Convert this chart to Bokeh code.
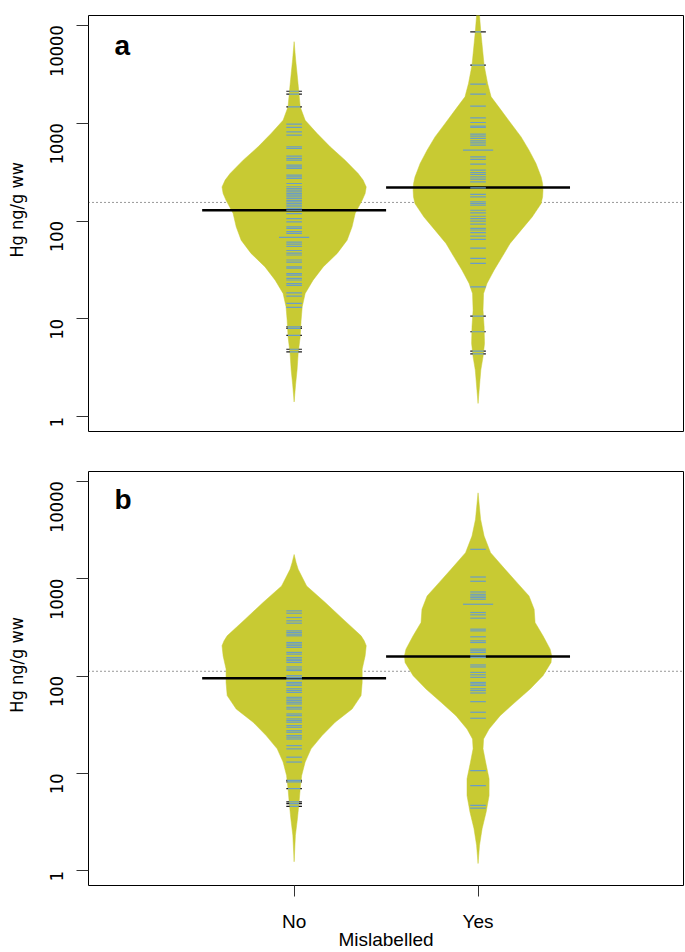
import math
import numpy as np
from bokeh.plotting import figure
from bokeh.models import Range1d, FixedTicker, Label, Span, NumeralTickFormatter
from bokeh.layouts import column, row
from bokeh.core.properties import value
from bokeh.embed import file_html
from bokeh.resources import INLINE

# ---------------- data ----------------
CATEGORIES = ["No", "Yes"]
TICK_VALUES = [1, 10, 100, 1000, 10000]
X_LABEL = "Mislabelled"
Y_LABEL = "Hg ng/g ww"
PANEL_TAGS = ["a", "b"]

# panel a: bean outlines (Hg level, half-width of the bean in category units)
A_NO_LEVELS = [6800, 4500, 3200, 2350, 1470, 1070, 785, 573, 419, 306, 262, 223, 191, 163, 120,
               87.3, 63.8, 46.7, 34.0, 24.9, 18.2, 13.3, 9.73, 6.56, 4.45, 3.0, 2.14, 1.42]
A_NO_WIDTHS = [0, 0.008, 0.016, 0.023, 0.033, 0.060, 0.125, 0.196, 0.277, 0.348, 0.375, 0.392,
               0.386, 0.370, 0.332, 0.315, 0.288, 0.234, 0.158, 0.103, 0.060, 0.044, 0.038,
               0.033, 0.022, 0.016, 0.008, 0]
A_YES_LEVELS = [22000, 12600, 8570, 3910, 2540, 1860, 1360, 993, 724, 530, 387, 282, 241, 207,
                177, 151, 110, 80.7, 59.0, 43.1, 31.5, 23.1, 18.2, 12.3, 8.30, 5.62, 4.10, 3.00,
                1.37]
A_YES_WIDTHS = [0, 0.008, 0.015, 0.033, 0.052, 0.071, 0.125, 0.179, 0.234, 0.277, 0.315, 0.343,
                0.351, 0.353, 0.351, 0.343, 0.294, 0.234, 0.174, 0.131, 0.087, 0.049, 0.030,
                0.027, 0.033, 0.035, 0.027, 0.015, 0]

# panel a: individual observations (stripes); *_DUP are repeated values (longer stripes)
A_NO_VALUES = [2120, 1980, 1470, 977, 904, 815, 754, 573, 551, 460, 436, 419, 372, 358, 345,
               294, 283, 272, 242, 224, 215, 207, 199, 191, 184, 177, 170, 163, 157, 151, 145,
               140, 134, 129, 119, 106, 98, 87, 84, 78, 75, 61, 58, 55, 50, 47, 45, 40, 38, 34,
               33, 29, 28, 26, 25, 23, 22, 18.5, 17.1, 14.4, 13.1, 8.3, 8.0, 6.8, 4.9, 4.6]
A_NO_DUP = [68]
A_YES_VALUES = [8570, 3910, 2500, 1980, 1490, 1133, 1016, 932, 904, 772, 736, 698, 660, 630,
                596, 453, 426, 381, 331, 313, 299, 283, 268, 251, 218, 187, 177, 157, 151, 145,
                129, 121, 112, 106, 100, 93, 84, 81, 76, 70, 65, 53, 41.5, 36.9, 21.3, 10.7,
                7.4, 4.7, 4.4]
A_YES_DUP = [530]
A_MEANS = [129, 220]
A_OVERALL = 155

# panel b
B_NO_LEVELS = [1770, 1460, 1247, 841, 569, 384, 259, 230, 205, 161, 118, 86.1, 63.0, 45.9,
               33.6, 24.5, 17.9, 13.1, 9.53, 6.97, 5.09, 3.44, 2.32, 1.24]
B_NO_WIDTHS = [0, 0.011, 0.022, 0.068, 0.169, 0.266, 0.364, 0.381, 0.392, 0.386, 0.370, 0.370,
               0.364, 0.315, 0.223, 0.152, 0.092, 0.060, 0.041, 0.033, 0.027, 0.018, 0.007, 0]
B_YES_LEVELS = [7600, 4060, 2735, 1849, 1247, 910, 664, 485, 355, 259, 189, 162, 138, 101, 73.6,
                53.8, 39.2, 28.6, 22.6, 17.9, 13.1, 8.81, 5.94, 4.02, 2.71, 1.83, 1.19]
B_YES_WIDTHS = [0, 0.014, 0.033, 0.068, 0.147, 0.212, 0.277, 0.305, 0.310, 0.353, 0.392, 0.400,
                0.397, 0.353, 0.283, 0.201, 0.120, 0.060, 0.030, 0.027, 0.041, 0.060, 0.060,
                0.044, 0.022, 0.008, 0]

B_NO_VALUES = [467, 442, 399, 369, 349, 291, 280, 269, 259, 221, 213, 205, 197, 175, 168, 155,
               149, 144, 138, 124, 118, 114, 101, 97, 93, 86, 83, 80, 74, 71, 68, 60.5, 58.2,
               55.9, 53.8, 51.7, 47.8, 45.9, 40.8, 39.2, 36.3, 34.9, 33.6, 31.0, 29.8, 27.5,
               26.5, 24.5, 23.6, 22.6, 19.3, 17.9, 14.7, 13.1, 8.5, 8.2, 7.0, 5.1, 4.9, 4.6]
B_NO_DUP = []
B_YES_VALUES = [2000, 1040, 940, 730, 691, 664, 640, 615, 449, 425, 393, 303, 291, 253, 230,
                221, 189, 182, 175, 161, 155, 130, 124, 109, 103, 97, 86, 83, 80, 74, 71, 67,
                54.6, 42.5, 36.9, 10.7, 7.5, 4.7, 4.4]
B_YES_DUP = [546]
B_MEANS = [95, 159]
B_OVERALL = 112

# ---------------- styling ----------------
BEAN = "#C8CA33"
STRIPE = "#6A9DC6"
OUTSIDE = "#1a1a1a"
NARROW = "'Liberation Sans Narrow', 'DejaVu Sans Condensed', 'Liberation Sans'"
SANS = "Liberation Sans"
STRIPE_HALF = 0.0425
DUP_HALF = 0.082
MEAN_HALF = 0.5
X_RANGE = (-0.118, 3.117)
Y_RANGE = (10 ** -0.15, 10 ** 4.10)
YLAB_POS = 10 ** 2.115      # vertical centre of the rotated y-axis title
LAB_W = 34                  # width of the strip holding the y-axis title


def draw_bean(p, center, levels, widths, values, dups, mean):
    levels = list(levels)
    widths = list(widths)
    xs = [center + w for w in widths] + [center - w for w in widths[::-1]]
    ys = levels + levels[::-1]
    p.patch(xs, ys, fill_color=BEAN, line_color=BEAN, line_width=0.5)
    p.segment(x0=[center - MEAN_HALF], y0=[mean], x1=[center + MEAN_HALF], y1=[mean],
              line_color="black", line_width=2.4)
    lv = np.log10(np.array(levels, float))[::-1]
    wd = np.array(widths, float)[::-1]
    for vals, half in ((values, STRIPE_HALF), (dups, DUP_HALF)):
        if len(vals) == 0:
            continue
        v = np.array(vals, float)
        inside = np.minimum(half, np.interp(np.log10(v), lv, wd))
        # part of the stripe lying inside the bean
        p.segment(x0=center - inside, y0=v, x1=center + inside, y1=v,
                  line_color=STRIPE, line_width=1.2)
        # parts sticking out of the bean are drawn dark
        out = inside < half
        if out.any():
            vo = v[out]
            io = inside[out]
            p.segment(x0=center - half + 0 * vo, y0=vo, x1=center - io, y1=vo,
                      line_color=OUTSIDE, line_width=1.2)
            p.segment(x0=center + io, y0=vo, x1=center + half + 0 * vo, y1=vo,
                      line_color=OUTSIDE, line_width=1.2)


def make_label_strip(height, top, bottom):
    f = figure(width=LAB_W, height=height, x_range=Range1d(0, LAB_W),
               y_range=Range1d(*Y_RANGE), y_axis_type="log",
               x_axis_location=None, y_axis_location=None,
               output_backend="svg", toolbar_location=None,
               min_border_left=0, min_border_right=0,
               min_border_top=top, min_border_bottom=bottom)
    f.grid.visible = False
    f.outline_line_color = None
    f.text(x=[16.2], y=[YLAB_POS], text=[Y_LABEL], angle=math.pi / 2,
           text_align="center", text_baseline="alphabetic",
           text_font=value(NARROW), text_font_size=value("18px"), text_color="black")
    return f


def make_panel(tag, beans, means, overall, bottom):
    height = 501 if bottom else 451
    top_b = 20 if bottom else 15
    bot_b = 65 if bottom else 20
    p = figure(width=685 - LAB_W, height=height,
               x_range=Range1d(*X_RANGE), y_range=Range1d(*Y_RANGE),
               y_axis_type="log", output_backend="svg", toolbar_location=None,
               min_border_left=88 - LAB_W, min_border_right=2,
               min_border_top=top_b, min_border_bottom=bot_b)
    p.grid.visible = False
    p.outline_line_color = "black"
    p.outline_line_width = 1
    p.background_fill_color = "white"
    p.border_fill_color = "white"

    p.add_layout(Span(location=overall, dimension="width", line_color="#333333",
                      line_width=1, line_dash="1 3", level="underlay"))

    for i, (levels, widths, values, dups) in enumerate(beans):
        draw_bean(p, i + 1, levels, widths, values, dups, means[i])

    yax = p.yaxis[0]
    yax.ticker = FixedTicker(ticks=TICK_VALUES, minor_ticks=[])
    yax.formatter = NumeralTickFormatter(format="0")
    yax.axis_line_color = None
    yax.major_tick_in = 0
    yax.major_tick_out = 12
    yax.major_tick_line_color = "#333333"
    yax.major_label_orientation = math.pi / 2
    yax.major_label_text_font = NARROW
    yax.major_label_text_font_size = "18px"
    yax.major_label_text_color = "black"
    yax.major_label_standoff = 20

    xax = p.xaxis[0]
    if bottom:
        xax.ticker = FixedTicker(ticks=[1, 2], minor_ticks=[])
        xax.major_label_overrides = {1: CATEGORIES[0], 2: CATEGORIES[1]}
        xax.axis_line_color = None
        xax.major_tick_in = 0
        xax.major_tick_out = 11
        xax.major_tick_line_color = "#333333"
        xax.major_label_text_font = SANS
        xax.major_label_text_font_size = "19px"
        xax.major_label_text_color = "black"
        xax.major_label_standoff = 14
        xax.axis_label = X_LABEL
        xax.axis_label_text_font = SANS
        xax.axis_label_text_font_style = "normal"
        xax.axis_label_text_font_size = "19px"
        xax.axis_label_text_color = "black"
        xax.axis_label_standoff = -6
    else:
        xax.visible = False

    p.add_layout(Label(x=26, y=386, x_units="screen", y_units="screen", text=tag,
                       text_align="left", text_baseline="alphabetic", text_font=SANS,
                       text_font_style="bold", text_font_size="28px", text_color="black"))
    return row(make_label_strip(height, top_b, bot_b), p, spacing=0)


pa = make_panel(PANEL_TAGS[0],
                [(A_NO_LEVELS, A_NO_WIDTHS, A_NO_VALUES, A_NO_DUP),
                 (A_YES_LEVELS, A_YES_WIDTHS, A_YES_VALUES, A_YES_DUP)],
                A_MEANS, A_OVERALL, bottom=False)
pb = make_panel(PANEL_TAGS[1],
                [(B_NO_LEVELS, B_NO_WIDTHS, B_NO_VALUES, B_NO_DUP),
                 (B_YES_LEVELS, B_YES_WIDTHS, B_YES_VALUES, B_YES_DUP)],
                B_MEANS, B_OVERALL, bottom=True)

layout = column(pa, pb, spacing=0)
open("out.html", "w").write(file_html(layout, INLINE))
